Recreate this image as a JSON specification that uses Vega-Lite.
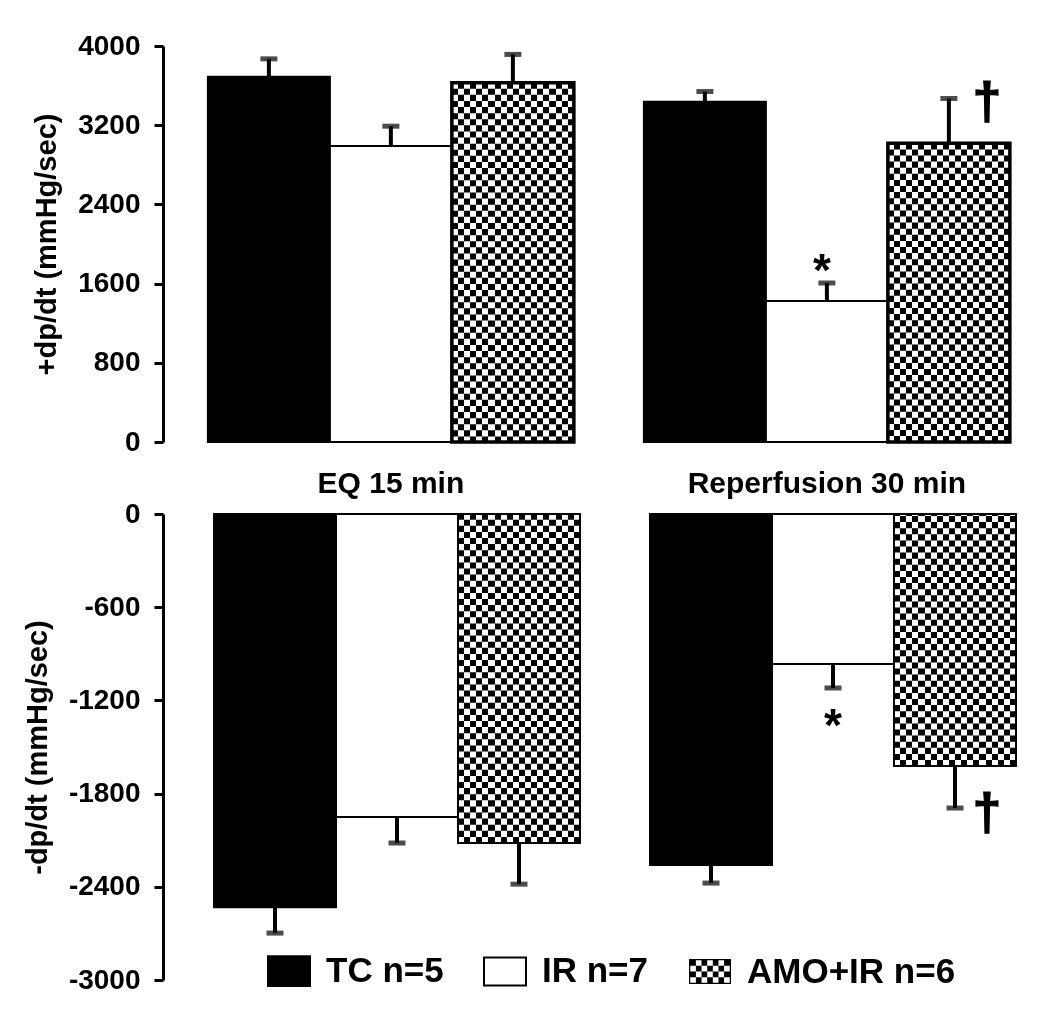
{
  "$schema": "https://vega.github.io/schema/vega-lite/v6.json",
  "padding": {"left": 23, "top": 21, "right": 0, "bottom": 0},
  "background": "white",
  "config": {
    "font": "Liberation Sans",
    "view": {"stroke": null},
    "axis": {
      "domainColor": "black", "domainWidth": 3, "tickColor": "black", "tickWidth": 3, "tickSize": 9,
      "labelColor": "black", "labelFont": "Liberation Sans", "labelFontSize": 28, "labelFontWeight": "bold",
      "titleFont": "Liberation Sans", "titleFontSize": 29, "titleFontWeight": "bold", "titleColor": "black",
      "grid": false, "labelPadding": 14, "titlePadding": 16, "labelFlush": false, "labelOverlap": false
    }
  },
  "datasets": {
    "top": [
      {"period": "EQ 15 min", "treatment": "TC n=5", "mean": 3690, "end": 3870},
      {"period": "EQ 15 min", "treatment": "IR n=7", "mean": 2990, "end": 3190},
      {"period": "EQ 15 min", "treatment": "AMO+IR n=6", "mean": 3630, "end": 3915},
      {"period": "Reperfusion 30 min", "treatment": "TC n=5", "mean": 3437, "end": 3540},
      {"period": "Reperfusion 30 min", "treatment": "IR n=7", "mean": 1424, "end": 1606},
      {"period": "Reperfusion 30 min", "treatment": "AMO+IR n=6", "mean": 3017, "end": 3470}
    ],
    "bottom": [
      {"period": "EQ 15 min", "treatment": "TC n=5", "mean": -2531, "end": -2698},
      {"period": "EQ 15 min", "treatment": "IR n=7", "mean": -1951, "end": -2118},
      {"period": "EQ 15 min", "treatment": "AMO+IR n=6", "mean": -2118, "end": -2383},
      {"period": "Reperfusion 30 min", "treatment": "TC n=5", "mean": -2260, "end": -2376},
      {"period": "Reperfusion 30 min", "treatment": "IR n=7", "mean": -966, "end": -1120},
      {"period": "Reperfusion 30 min", "treatment": "AMO+IR n=6", "mean": -1623, "end": -1893}
    ],
    "topAnn": [
      {"period": "Reperfusion 30 min", "treatment": "IR n=7", "pos": 1818, "label": "*"},
      {"period": "Reperfusion 30 min", "treatment": "AMO+IR n=6", "pos": 3455, "label": "†"}
    ],
    "botAnn": [
      {"period": "Reperfusion 30 min", "treatment": "IR n=7", "pos": -1307, "label": "*"},
      {"period": "Reperfusion 30 min", "treatment": "AMO+IR n=6", "pos": -1919, "label": "†"}
    ]
  },
  "vconcat": [
    {
      "width": 853,
      "height": 396,
      "data": {"name": "top"},
      "encoding": {
        "x": {"field": "period", "type": "nominal",
          "scale": {"domain": ["EQ 15 min", "Reperfusion 30 min"], "paddingInner": 0.1606, "paddingOuter": 0.0585, "align": 0.88},
          "axis": {"title": null, "domain": false, "ticks": false, "tickSize": 0, "labelAngle": 0, "labelFontSize": 30, "labelPadding": 26, "labelLimit": 500}},
        "xOffset": {"field": "treatment", "type": "nominal",
          "scale": {"domain": ["TC n=5", "IR n=7", "AMO+IR n=6"], "paddingInner": 0, "paddingOuter": 0}}
      },
      "layer": [
        {
          "mark": {"type": "bar", "stroke": "black", "strokeWidth": 2},
          "encoding": {
            "y": {"field": "mean", "type": "quantitative", "scale": {"domain": [0, 4000], "nice": false},
              "axis": {"values": [0, 800, 1600, 2400, 3200, 4000], "labelExpr": "'' + datum.value", "title": "+dp/dt (mmHg/sec)"}},
            "fill": {"field": "treatment", "type": "nominal",
              "scale": {"domain": ["TC n=5", "IR n=7", "AMO+IR n=6"], "range": ["black", "white", "black"]}, "legend": null}
          }
        },
        {
          "transform": [{"filter": "datum.treatment === 'AMO+IR n=6'"}],
          "mark": {"type": "bar", "strokeWidth": 0, "fill": {"gradient": "linear", "x1": 0, "y1": 0, "x2": 1, "y2": 0, "stops": [
            {"offset": 0, "color": "#000"}, {"offset": 0.05, "color": "#000"},
            {"offset": 0.05, "color": "#fff"}, {"offset": 0.1, "color": "#fff"},
            {"offset": 0.1, "color": "#000"}, {"offset": 0.15, "color": "#000"},
            {"offset": 0.15, "color": "#fff"}, {"offset": 0.2, "color": "#fff"},
            {"offset": 0.2, "color": "#000"}, {"offset": 0.25, "color": "#000"},
            {"offset": 0.25, "color": "#fff"}, {"offset": 0.3, "color": "#fff"},
            {"offset": 0.3, "color": "#000"}, {"offset": 0.35, "color": "#000"},
            {"offset": 0.35, "color": "#fff"}, {"offset": 0.4, "color": "#fff"},
            {"offset": 0.4, "color": "#000"}, {"offset": 0.45, "color": "#000"},
            {"offset": 0.45, "color": "#fff"}, {"offset": 0.5, "color": "#fff"},
            {"offset": 0.5, "color": "#000"}, {"offset": 0.55, "color": "#000"},
            {"offset": 0.55, "color": "#fff"}, {"offset": 0.6, "color": "#fff"},
            {"offset": 0.6, "color": "#000"}, {"offset": 0.65, "color": "#000"},
            {"offset": 0.65, "color": "#fff"}, {"offset": 0.7, "color": "#fff"},
            {"offset": 0.7, "color": "#000"}, {"offset": 0.75, "color": "#000"},
            {"offset": 0.75, "color": "#fff"}, {"offset": 0.8, "color": "#fff"},
            {"offset": 0.8, "color": "#000"}, {"offset": 0.85, "color": "#000"},
            {"offset": 0.85, "color": "#fff"}, {"offset": 0.9, "color": "#fff"},
            {"offset": 0.9, "color": "#000"}, {"offset": 0.95, "color": "#000"},
            {"offset": 0.95, "color": "#fff"}, {"offset": 1, "color": "#fff"}]}},
          "encoding": {"y": {"field": "mean", "type": "quantitative"}}
        },
        {
          "transform": [{"filter": "datum.treatment === 'AMO+IR n=6'"}],
          "mark": {"type": "rule", "stroke": "white", "strokeWidth": 122, "strokeDash": [6.1, 6.1], "strokeCap": "butt", "blend": "difference"},
          "encoding": {"y": {"field": "mean", "type": "quantitative"}, "y2": {"datum": 0}}
        },
        {
          "transform": [{"filter": "datum.treatment === 'AMO+IR n=6'"}],
          "mark": {"type": "bar", "fillOpacity": 0, "stroke": "black", "strokeWidth": 3.5},
          "encoding": {"y": {"field": "mean", "type": "quantitative"}}
        },
        {
          "mark": {"type": "rule", "color": "black", "strokeWidth": 4},
          "encoding": {"y": {"field": "mean", "type": "quantitative"}, "y2": {"field": "end"}}
        },
        {
          "mark": {"type": "tick", "color": "black", "thickness": 5, "size": 17},
          "encoding": {"y": {"field": "end", "type": "quantitative"}}
        },
        {
          "data": {"name": "topAnn"},
          "transform": [{"filter": "datum.label === '*'"}],
          "mark": {"type": "text", "fontSize": 46, "fontWeight": "bold", "color": "black", "baseline": "middle", "align": "center", "dx": -5, "dy": 10},
          "encoding": {"y": {"field": "pos", "type": "quantitative"}, "text": {"field": "label"}}
        },
        {
          "data": {"name": "topAnn"},
          "transform": [{"filter": "datum.label === '†'"}],
          "mark": {"type": "text", "fontSize": 52, "fontWeight": "bold", "color": "black", "baseline": "middle", "align": "center", "dx": 38, "dy": 3, "stroke": "black", "strokeWidth": 1.2},
          "encoding": {"y": {"field": "pos", "type": "quantitative"}, "text": {"field": "label"}}
        }
      ]
    },
    {
      "width": 853,
      "height": 466,
      "data": {"name": "bottom"},
      "encoding": {
        "x": {"field": "period", "type": "nominal",
          "scale": {"domain": ["EQ 15 min", "Reperfusion 30 min"], "paddingInner": 0.1606, "paddingOuter": 0.0585, "align": 1},
          "axis": null},
        "xOffset": {"field": "treatment", "type": "nominal",
          "scale": {"domain": ["TC n=5", "IR n=7", "AMO+IR n=6"], "paddingInner": 0, "paddingOuter": 0}}
      },
      "layer": [
        {
          "mark": {"type": "bar", "stroke": "black", "strokeWidth": 2},
          "encoding": {
            "y": {"field": "mean", "type": "quantitative", "scale": {"domain": [-3000, 0], "nice": false},
              "axis": {"values": [-3000, -2400, -1800, -1200, -600, 0], "labelExpr": "'' + datum.value", "title": "-dp/dt (mmHg/sec)"}},
            "fill": {"field": "treatment", "type": "nominal",
              "scale": {"domain": ["TC n=5", "IR n=7", "AMO+IR n=6"], "range": ["black", "white", "black"]},
              "legend": {
                "orient": "none", "legendX": 104, "legendY": 435, "direction": "horizontal", "title": null,
                "symbolType": "M-1,-0.71H1V0.71H-1Z", "symbolSize": 1764, "symbolStrokeWidth": 2, "symbolStrokeColor": "black",
                "labelFontSize": 35, "labelFontWeight": "bold", "labelColor": "black", "labelFont": "Liberation Sans",
                "labelOffset": 15, "columnPadding": 36, "labelLimit": 0,
                "encode": {"symbols": {"update": {
                  "shape": [
                    {"test": "datum.value === 'AMO+IR n=6'", "value": "M-1,-0.6H1V0.6H-1Z M-0.94,-0.54V0.54H0.94V-0.54Z M-0.94,-0.54H-0.671V-0.27H-0.94Z M-0.403,-0.54H-0.134V-0.27H-0.403Z M0.134,-0.54H0.403V-0.27H0.134Z M0.671,-0.54H0.94V-0.27H0.671Z M-0.671,-0.27H-0.403V0H-0.671Z M-0.134,-0.27H0.134V0H-0.134Z M0.403,-0.27H0.671V0H0.403Z M-0.94,0H-0.671V0.27H-0.94Z M-0.403,0H-0.134V0.27H-0.403Z M0.134,0H0.403V0.27H0.134Z M0.671,0H0.94V0.27H0.671Z M-0.671,0.27H-0.403V0.54H-0.671Z M-0.134,0.27H0.134V0.54H-0.134Z M0.403,0.27H0.671V0.54H0.403Z"},
                    {"test": "datum.value === 'IR n=7'", "value": "M-1,-0.67H1V0.67H-1Z"},
                    {"value": "M-1,-0.71H1V0.71H-1Z"}
                  ],
                  "stroke": [{"test": "datum.value === 'AMO+IR n=6'", "value": "transparent"}, {"value": "black"}]
                }}}
              }
            }
          }
        },
        {
          "transform": [{"filter": "datum.treatment === 'AMO+IR n=6'"}],
          "mark": {"type": "bar", "strokeWidth": 0, "fill": {"gradient": "linear", "x1": 0, "y1": 0, "x2": 1, "y2": 0, "stops": [
            {"offset": 0, "color": "#000"}, {"offset": 0.05, "color": "#000"},
            {"offset": 0.05, "color": "#fff"}, {"offset": 0.1, "color": "#fff"},
            {"offset": 0.1, "color": "#000"}, {"offset": 0.15, "color": "#000"},
            {"offset": 0.15, "color": "#fff"}, {"offset": 0.2, "color": "#fff"},
            {"offset": 0.2, "color": "#000"}, {"offset": 0.25, "color": "#000"},
            {"offset": 0.25, "color": "#fff"}, {"offset": 0.3, "color": "#fff"},
            {"offset": 0.3, "color": "#000"}, {"offset": 0.35, "color": "#000"},
            {"offset": 0.35, "color": "#fff"}, {"offset": 0.4, "color": "#fff"},
            {"offset": 0.4, "color": "#000"}, {"offset": 0.45, "color": "#000"},
            {"offset": 0.45, "color": "#fff"}, {"offset": 0.5, "color": "#fff"},
            {"offset": 0.5, "color": "#000"}, {"offset": 0.55, "color": "#000"},
            {"offset": 0.55, "color": "#fff"}, {"offset": 0.6, "color": "#fff"},
            {"offset": 0.6, "color": "#000"}, {"offset": 0.65, "color": "#000"},
            {"offset": 0.65, "color": "#fff"}, {"offset": 0.7, "color": "#fff"},
            {"offset": 0.7, "color": "#000"}, {"offset": 0.75, "color": "#000"},
            {"offset": 0.75, "color": "#fff"}, {"offset": 0.8, "color": "#fff"},
            {"offset": 0.8, "color": "#000"}, {"offset": 0.85, "color": "#000"},
            {"offset": 0.85, "color": "#fff"}, {"offset": 0.9, "color": "#fff"},
            {"offset": 0.9, "color": "#000"}, {"offset": 0.95, "color": "#000"},
            {"offset": 0.95, "color": "#fff"}, {"offset": 1, "color": "#fff"}]}},
          "encoding": {"y": {"field": "mean", "type": "quantitative"}}
        },
        {
          "transform": [{"filter": "datum.treatment === 'AMO+IR n=6'"}],
          "mark": {"type": "rule", "stroke": "white", "strokeWidth": 122, "strokeDash": [6.1, 6.1], "strokeCap": "butt", "blend": "difference"},
          "encoding": {"y": {"field": "mean", "type": "quantitative"}, "y2": {"datum": 0}}
        },
        {
          "transform": [{"filter": "datum.treatment === 'AMO+IR n=6'"}],
          "mark": {"type": "bar", "fillOpacity": 0, "stroke": "black", "strokeWidth": 2},
          "encoding": {"y": {"field": "mean", "type": "quantitative"}}
        },
        {
          "mark": {"type": "rule", "color": "black", "strokeWidth": 4},
          "encoding": {"y": {"field": "mean", "type": "quantitative"}, "y2": {"field": "end"}}
        },
        {
          "mark": {"type": "tick", "color": "black", "thickness": 5, "size": 17},
          "encoding": {"y": {"field": "end", "type": "quantitative"}}
        },
        {
          "data": {"name": "botAnn"},
          "transform": [{"filter": "datum.label === '*'"}],
          "mark": {"type": "text", "fontSize": 46, "fontWeight": "bold", "color": "black", "baseline": "middle", "align": "center", "dx": 0, "dy": 10},
          "encoding": {"y": {"field": "pos", "type": "quantitative"}, "text": {"field": "label"}}
        },
        {
          "data": {"name": "botAnn"},
          "transform": [{"filter": "datum.label === '†'"}],
          "mark": {"type": "text", "fontSize": 52, "fontWeight": "bold", "color": "black", "baseline": "middle", "align": "center", "dx": 32, "dy": 2, "stroke": "black", "strokeWidth": 1.2},
          "encoding": {"y": {"field": "pos", "type": "quantitative"}, "text": {"field": "label"}}
        }
      ]
    }
  ],
  "spacing": 72,
  "bounds": "flush",
  "resolve": {"scale": {"fill": "independent"}, "legend": {"fill": "independent"}}
}
